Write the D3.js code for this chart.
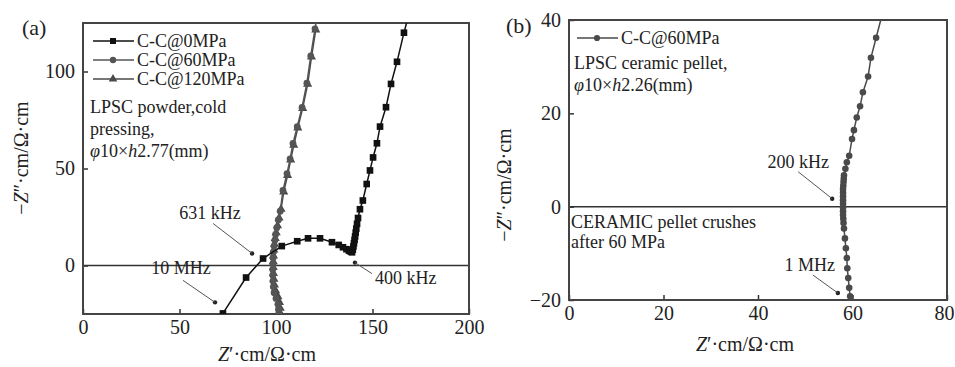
<!DOCTYPE html>
<html>
<head>
<meta charset="utf-8">
<script src="https://cdn.jsdelivr.net/npm/d3@7"></script>
<style>
body{margin:0;background:#fff;}
text{font-family:"Liberation Serif","Times New Roman",serif;fill:#222;}
</style>
</head>
<body>
<script>
var width = 955;
var height = 367;

// (a) cold pressed LPSC powder, Z' and -Z'' in ohm.cm
var re0MPa = [72.5, 84.5, 93.3, 103, 111, 116.6, 122.8, 129, 132.5, 134.7, 136.5, 137.8, 138.8, 139.4, 139.8, 140.1, 140.4, 140.7, 141, 141.3, 141.6, 142, 142.5, 143.5, 145, 147, 148.7, 150.3, 152.3, 153.9, 157, 159.6, 162.7, 166.3, 169];
var im0MPa = [-24.7, -6.2, 3.6, 10, 12.5, 14, 14, 12, 10.6, 9.4, 8.4, 7.6, 7.1, 6.8, 8.2, 9.8, 11.5, 13.2, 15, 17, 19, 21.5, 24.5, 29, 33.5, 42, 49, 55.7, 63, 71.6, 81.6, 93.6, 105, 120, 130];
var re60MPa = [101.5, 101.3, 101, 100, 99, 98.6, 98.4, 98.3, 98.3, 98.4, 98.5, 98.7, 99, 99.4, 99.8, 100.4, 101.2, 102.2, 103.6, 105.7, 107.3, 108.8, 111, 113.5, 116, 118, 120.2, 121.5];
var im60MPa = [-25, -22.5, -20, -17, -14, -11, -8, -5, -2, 1, 4, 7, 10, 13, 16, 19.5, 23.5, 28, 38.7, 47.4, 55, 62.9, 71.6, 81.5, 94, 108, 122, 130];
var re120MPa = [102.5, 102.2, 101.8, 101, 99.8, 99.2, 98.9, 98.7, 98.6, 98.6, 98.7, 98.9, 99.2, 99.6, 100.1, 100.8, 101.6, 102.6, 104, 106, 107.6, 109.2, 111.3, 113.8, 116.4, 118.4, 120.6];
var im120MPa = [-25, -22, -19, -16, -13, -10, -7, -4, -1, 2, 5, 8, 11, 14, 17, 20.5, 24.5, 29, 38, 46.5, 54.5, 62, 71, 81, 93.5, 107.5, 121.5];
var freqA = ['631 kHz', '10 MHz', '400 kHz'];
var freqReA = [87.6, 68.4, 140.9];
var freqImA = [6.2, -19, 1.5];

// (b) LPSC ceramic pellet at 60 MPa
var reB = [59.5, 59.3, 59.1, 58.9, 58.8, 58.6, 58.4, 58.2, 58.1, 58.05, 58, 58, 58, 58, 58, 58, 58, 58, 58.05, 58.1, 58.15, 58.2, 58.5, 58.8, 59.3, 59.9, 60.3, 60.9, 61.6, 62.2, 63.3, 63.9, 65, 66.5];
var imB = [-19.2, -17.4, -15.3, -13.2, -11, -8.9, -6.8, -4.7, -3.5, -2.6, -1.8, -1, -0.2, 0.6, 1.4, 2.2, 3, 3.8, 4.5, 5.3, 6, 6.7, 8.1, 9.5, 10.9, 14.5, 16.4, 19.1, 21.5, 24.5, 27.9, 31.9, 36.2, 42];
var freqB = ['200 kHz', '1 MHz'];
var freqReB = [55.7, 56.9];
var freqImB = [1.7, -18.5];

var ticksAx = [0, 50, 100, 150, 200];
var ticksAy = [0, 50, 100];
var ticksBx = [0, 20, 40, 60, 80];
var ticksBy = [-20, 0, 20, 40];

var svg = d3.select('body').append('svg')
	.attr('width', width)
	.attr('height', height);

function makePanel(box, xDom, yDom, xTicks, yTicks, id) {
	var x = d3.scaleLinear().domain(xDom).range([box.left, box.right]);
	var y = d3.scaleLinear().domain(yDom).range([box.bottom, box.top]);
	svg.append('clipPath').attr('id', id).append('rect')
		.attr('x', box.left).attr('y', box.top)
		.attr('width', box.right - box.left).attr('height', box.bottom - box.top);
	var gx = svg.append('g')
		.attr('transform', 'translate(0,' + box.bottom + ')')
		.call(d3.axisBottom(x).tickValues(xTicks).tickSizeInner(-5).tickSizeOuter(0).tickPadding(6));
	var gy = svg.append('g')
		.attr('transform', 'translate(' + box.left + ',0)')
		.call(d3.axisLeft(y).tickValues(yTicks).tickSizeInner(-5).tickSizeOuter(0).tickPadding(8));
	[gx, gy].forEach(function(g) {
		g.select('.domain').remove();
		g.selectAll('line').attr('stroke', '#333').attr('stroke-width', 1.5);
		g.selectAll('text').attr('font-family', '"Liberation Serif",serif').attr('font-size', 20).attr('fill', '#333');
	});
	// keep the last x label inside the window
	if (box.right > width - 15) gx.selectAll('.tick:last-of-type text').attr('dx', -3);
	// zero line
	svg.append('line')
		.attr('x1', box.left).attr('x2', box.right)
		.attr('y1', y(0)).attr('y2', y(0))
		.attr('stroke', '#333').attr('stroke-width', 1.5);
	svg.append('rect')
		.attr('x', box.left).attr('y', box.top)
		.attr('width', box.right - box.left).attr('height', box.bottom - box.top)
		.attr('fill', 'none').attr('stroke', '#444').attr('stroke-width', 2);
	return {x: x, y: y, clip: 'url(#' + id + ')'};
}

function drawSeries(p, re, im, type, color, size) {
	var pts = d3.zip(re, im);
	var g = svg.append('g').attr('clip-path', p.clip);
	g.append('path')
		.datum(pts)
		.attr('fill', 'none').attr('stroke', color).attr('stroke-width', 1.5)
		.attr('d', d3.line().x(function(d) { return p.x(d[0]); }).y(function(d) { return p.y(d[1]); }));
	g.selectAll('.m').data(pts).enter().append('path')
		.attr('transform', function(d) { return 'translate(' + p.x(d[0]) + ',' + p.y(d[1]) + ')'; })
		.attr('d', d3.symbol().type(type).size(size))
		.attr('fill', color);
}

function drawNotes(p, labels, re, im, offs) {
	labels.forEach(function(t, i) {
		var cx = p.x(re[i]), cy = p.y(im[i]), o = offs[i];
		svg.append('circle').attr('cx', cx).attr('cy', cy).attr('r', 2.2).attr('fill', '#222');
		svg.append('line')
			.attr('x1', cx).attr('y1', cy)
			.attr('x2', cx + o[0]).attr('y2', cy + o[1])
			.attr('stroke', '#555').attr('stroke-width', 1);
		svg.append('text')
			.attr('x', cx + o[2]).attr('y', cy + o[3])
			.attr('text-anchor', o[4])
			.attr('font-size', 18)
			.text(t);
	});
}

function legendRow(x0, yRow, type, color, size, label) {
	svg.append('line').attr('x1', x0).attr('x2', x0 + 41).attr('y1', yRow).attr('y2', yRow)
		.attr('stroke', color).attr('stroke-width', 1.5);
	svg.append('path')
		.attr('transform', 'translate(' + (x0 + 20) + ',' + yRow + ')')
		.attr('d', d3.symbol().type(type).size(size))
		.attr('fill', color);
	svg.append('text').attr('x', x0 + 44).attr('y', yRow + 6).attr('font-size', 18).text(label);
}

function multiLine(x0, y0, lines, step) {
	lines.forEach(function(l, i) {
		var t = svg.append('text').attr('x', x0).attr('y', y0 + i * step).attr('font-size', 18);
		l.forEach(function(s) {
			t.append('tspan').attr('font-style', s[1] ? 'italic' : null).text(s[0]);
		});
	});
}

function axisTitles(xLabel, yLabel) {
	var t = svg.append('text').attr('x', xLabel[0]).attr('y', xLabel[1])
		.attr('text-anchor', 'middle').attr('font-size', 20);
	t.append('tspan').attr('font-style', 'italic').text('Z');
	t.append('tspan').text('\u2032\u00b7cm/\u03a9\u00b7cm');
	var v = svg.append('text')
		.attr('transform', 'translate(' + yLabel[0] + ',' + yLabel[1] + ') rotate(-90)')
		.attr('text-anchor', 'middle').attr('font-size', 20);
	v.append('tspan').text('\u2212');
	v.append('tspan').attr('font-style', 'italic').text('Z');
	v.append('tspan').text('\u2033\u00b7cm/\u03a9\u00b7cm');
}

// panel (a)
var pa = makePanel({left: 83, right: 469, top: 23, bottom: 314}, [0, 200], [-25, 125], ticksAx, ticksAy, 'clipA');
drawSeries(pa, re120MPa, im120MPa, d3.symbolTriangle, '#4a4a4a', 36);
drawSeries(pa, re60MPa, im60MPa, d3.symbolCircle, '#555', 36);
drawSeries(pa, re0MPa, im0MPa, d3.symbolSquare, '#111', 44);
drawNotes(pa, freqA, freqReA, freqImA, [
	[-39, -30, -42, -34, 'middle'],
	[-32, -22, -34, -28, 'middle'],
	[17, 11, 20, 21, 'start']
]);
legendRow(93, 41, d3.symbolSquare, '#111', 36, 'C-C@0MPa');
legendRow(93, 60, d3.symbolCircle, '#555', 32, 'C-C@60MPa');
legendRow(93, 79, d3.symbolTriangle, '#4a4a4a', 32, 'C-C@120MPa');
multiLine(90, 113, [
	[['LPSC powder,cold']],
	[['pressing,']],
	[['\u03c6', true], ['10\u00d7'], ['h', true], ['2.77(mm)']]
], 22);
axisTitles([267, 361], [28, 158]);
svg.append('text').attr('x', 22).attr('y', 35)
	.attr('font-family', '"Liberation Sans",Arial,sans-serif').attr('font-size', 22).attr('fill', '#333')
	.text('(a)');

// panel (b)
var pb = makePanel({left: 569, right: 947, top: 20, bottom: 300}, [0, 80], [-20, 40], ticksBx, ticksBy, 'clipB');
drawSeries(pb, reB, imB, d3.symbolCircle, '#4a4a4a', 34);
drawNotes(pb, freqB, freqReB, freqImB, [
	[-34, -27, -34, -31, 'middle'],
	[-25, -18, -28, -22, 'middle']
]);
legendRow(577, 38, d3.symbolCircle, '#4a4a4a', 30, 'C-C@60MPa');
multiLine(574, 69, [
	[['LPSC ceramic pellet,']],
	[['\u03c6', true], ['10\u00d7'], ['h', true], ['2.26(mm)']]
], 22);
multiLine(571, 228, [
	[['CERAMIC pellet crushes']],
	[['after 60 MPa']]
], 20);
axisTitles([745, 351], [511, 185]);
svg.append('text').attr('x', 506).attr('y', 33)
	.attr('font-family', '"Liberation Sans",Arial,sans-serif').attr('font-size', 22).attr('fill', '#333')
	.text('(b)');
</script>
</body>
</html>
